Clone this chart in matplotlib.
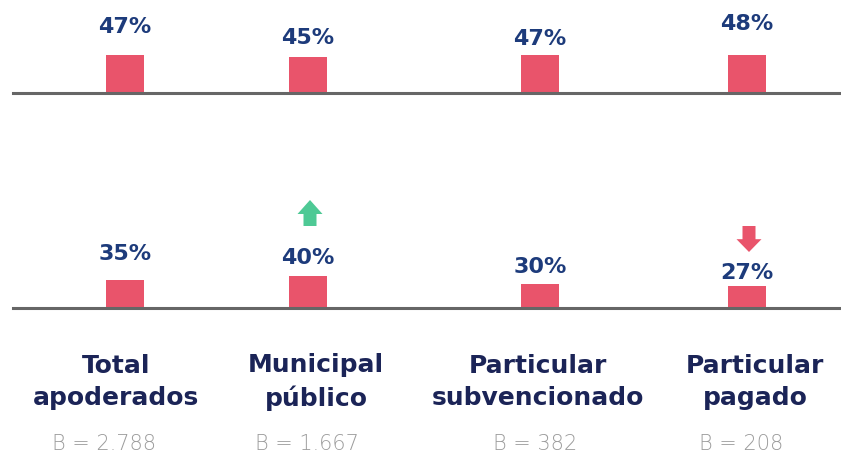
import matplotlib
matplotlib.use("Agg")
import matplotlib.pyplot as plt
from matplotlib.patches import FancyArrow

# ---- data ----
categories = ["Total\napoderados", "Municipal\npúblico", "Particular\nsubvencionado", "Particular\npagado"]
bases = ["B = 2.788", "B = 1.667", "B = 382", "B = 208"]
top_values = [47, 45, 47, 48]
bottom_values = [35, 40, 30, 27]
trend = [None, "up", None, "down"]

# ---- layout / style ----
W, H = 841, 453
bar_x = [125, 308, 540, 747]
cat_x = [116, 316, 538, 755]
b_x = [104, 307, 535, 741]
bar_w = 38
top_label_off = [22, 13, 10, 25]
bot_label_off = [20, 12, 11, 7]

BAR = "#e9546b"
NAVY = "#1d3b7b"
DARK = "#1b2457"
GREY = "#9c9c9c"
LINE = "#666666"
GREEN = "#4ec995"

fig = plt.figure(figsize=(W / 100, H / 100), dpi=100)


def make_axes(baseline_px):
    ax = fig.add_axes([0, 1 - baseline_px / H, 1, 100 / H])
    ax.set_xlim(0, W)
    ax.set_ylim(0, 125)  # 0.8 px per percentage point
    ax.axis("off")
    ax.axhline(0, xmin=13 / W, xmax=1, color=LINE, lw=2.2, clip_on=False, zorder=3)
    return ax


ax_top = make_axes(93)
ax_bot = make_axes(308)

for ax, vals, offs in [(ax_top, top_values, top_label_off), (ax_bot, bottom_values, bot_label_off)]:
    ax.bar(bar_x, vals, width=bar_w, color=BAR, zorder=2)
    for x, v, o in zip(bar_x, vals, offs):
        ax.annotate(f"{v}%", (x, v), xytext=(0, o), textcoords="offset pixels",
                    ha="center", va="baseline", fontsize=16, fontweight="bold",
                    color=NAVY, family="DejaVu Sans")

# trend arrows
for x, t in zip(bar_x, trend):
    if t == "up":
        arr = FancyArrow(x + 2, 102.5, 0, 32.5, width=13, head_width=25, head_length=17.5,
                         length_includes_head=True, color=GREEN, lw=0, clip_on=False)
        ax_bot.add_patch(arr)
    elif t == "down":
        arr = FancyArrow(x + 2, 102.5, 0, -32.5, width=13, head_width=25, head_length=16,
                         length_includes_head=True, color=BAR, lw=0, clip_on=False)
        ax_bot.add_patch(arr)

# category labels
for x, c in zip(cat_x, categories):
    fig.text(x / W, 1 - 382 / H, c, ha="center", va="center", fontsize=18,
             fontweight="bold", color=DARK, family="DejaVu Sans", linespacing=1.4)

for x, b in zip(b_x, bases):
    fig.text(x / W, 1 - 444 / H, b, ha="center", va="center", fontsize=15,
             fontweight="light", color=GREY, family="DejaVu Sans")

fig.savefig("out.png", dpi=100, facecolor="white")
